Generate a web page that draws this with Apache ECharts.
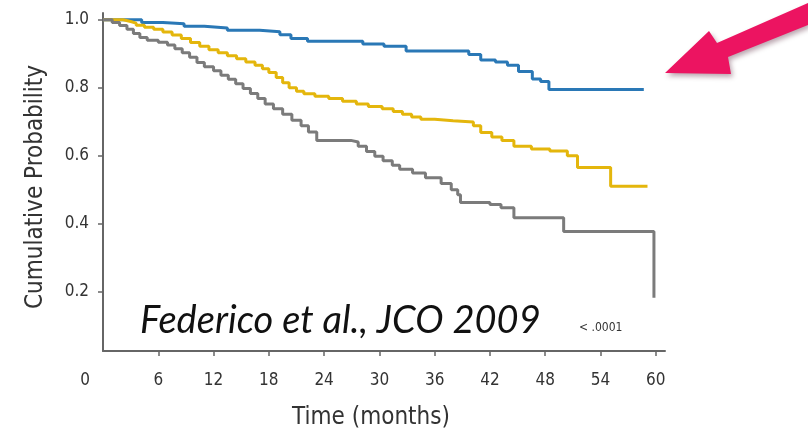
<!DOCTYPE html>
<html><head><meta charset="utf-8">
<script src="https://cdn.jsdelivr.net/npm/echarts@6/dist/echarts.min.js"></script>
<style>html,body{margin:0;padding:0;background:#fff}#c{width:808px;height:435px}</style>
</head><body><div id="c"></div><script>
const monthTicks = [6, 12, 18, 24, 30, 36, 42, 48, 54, 60];
const probTicks = [0.2, 0.4, 0.6, 0.8, 1.0];
const blueCurve = [[0,1],[4.2,0.992],[6.5,0.988],[8.8,0.981],[11,0.976],[13.5,0.969],[17,0.965],[19.2,0.956],[20.4,0.945],[22.2,0.937],[28.2,0.929],[30.5,0.922],[32.9,0.908],[39.7,0.898],[41,0.882],[42.6,0.876],[43.9,0.866],[45.1,0.848],[46.6,0.826],[47.5,0.818],[48.4,0.795],[58.7,0.795]];
const yellowCurve = [[0,1],[2.2,0.995],[3,0.99],[3.6,0.984],[4.5,0.978],[5.5,0.972],[6.5,0.964],[7.5,0.955],[8.5,0.945],[9.5,0.933],[10.5,0.922],[11.5,0.912],[12.5,0.903],[13.5,0.894],[14.5,0.885],[15.5,0.876],[16.5,0.866],[17.3,0.856],[18,0.845],[18.8,0.83],[19.5,0.815],[20.2,0.8],[21,0.79],[21.8,0.782],[23,0.775],[24.5,0.768],[26,0.76],[27.5,0.752],[28.8,0.745],[30.3,0.738],[31.5,0.73],[32.5,0.722],[33.5,0.714],[34.5,0.707],[36,0.703],[38,0.699],[40.2,0.688],[41,0.668],[42.2,0.655],[43.3,0.645],[44.6,0.628],[46.5,0.62],[48.5,0.614],[50.4,0.6],[51.5,0.565],[55.1,0.51],[59.1,0.51]];
const grayCurve = [[0,1],[1,0.992],[1.8,0.983],[2.6,0.972],[3.3,0.96],[4,0.948],[4.8,0.94],[6,0.934],[7,0.926],[7.8,0.915],[8.6,0.903],[9.4,0.89],[10.2,0.874],[11,0.862],[12,0.85],[12.8,0.837],[13.6,0.825],[14.4,0.812],[15.2,0.798],[16,0.783],[16.8,0.768],[17.6,0.752],[18.5,0.738],[19.5,0.722],[20.5,0.704],[21.5,0.688],[22.3,0.67],[23.2,0.645],[26.9,0.64],[27.7,0.628],[28.6,0.612],[29.5,0.598],[30.4,0.585],[31.4,0.572],[32.2,0.56],[33.6,0.549],[35,0.535],[36.7,0.518],[37.8,0.5],[38.5,0.485],[38.8,0.462],[42,0.456],[43.2,0.447],[44.6,0.417],[50,0.377],[59.8,0.182]];
const citation = 'Federico et al., JCO 2009';
const pText = '< .0001';

const NARROW = '"DejaVu Sans Condensed", "Liberation Sans", Arial, sans-serif';
const chart = echarts.init(document.getElementById('c'), null, {renderer: 'canvas'});
function kmSeries(data, color) {
  return {type: 'line', step: 'end', data: data, showSymbol: false, silent: true,
    lineStyle: {color: color, width: 3}, itemStyle: {color: color}};
}
chart.setOption({
  animation: false,
  backgroundColor: '#ffffff',
  grid: {left: 103, right: 143, top: 13, bottom: 84},
  xAxis: {
    type: 'value', min: 0, max: 61,
    axisLine: {show: true, lineStyle: {color: '#666', width: 2}},
    axisTick: {show: true, customValues: monthTicks, length: 5, lineStyle: {color: '#666', width: 1.5}},
    axisLabel: {customValues: monthTicks, margin: 21, fontSize: 17, color: '#333', fontFamily: NARROW},
    splitLine: {show: false},
    name: 'Time (months)', nameLocation: 'middle', nameGap: 55,
    nameTextStyle: {fontSize: 24, color: '#333', fontFamily: NARROW, padding: [0, 26, 0, 0]}
  },
  yAxis: {
    type: 'value', min: 0.025, max: 1.02,
    axisLine: {show: true, lineStyle: {color: '#666', width: 2}},
    axisTick: {show: true, customValues: probTicks, length: 5, lineStyle: {color: '#666', width: 1.5}},
    axisLabel: {customValues: probTicks, margin: 14, fontSize: 17, color: '#333', fontFamily: NARROW,
      formatter: v => v.toFixed(1)},
    splitLine: {show: false}
  },
  series: [kmSeries(blueCurve, '#2a78b6'), kmSeries(yellowCurve, '#e4b60c'), kmSeries(grayCurve, '#7b7b7b')],
  graphic: [
    {type: 'text', x: 36, y: 187, rotation: Math.PI / 2,
      style: {text: 'Cumulative Probability', font: '24px ' + NARROW, fill: '#333',
        align: 'center', verticalAlign: 'middle'}},
    {type: 'text', x: 85, y: 381, style: {text: '0', font: '17px ' + NARROW, fill: '#333', align: 'center', verticalAlign: 'middle'}},
    {type: 'text', x: 140, y: 321, style: {text: citation, font: 'italic 38px Lato, "Open Sans", sans-serif', fill: '#111', align: 'left', verticalAlign: 'middle'}},
    {type: 'text', x: 579, y: 328, style: {text: pText, font: '12px ' + NARROW, fill: '#333', align: 'left', verticalAlign: 'middle'}},
    {type: 'polygon', shape: {points: [[665,73],[709,31],[717,43],[808,3],[808,25],[728,57],[731,74]]},
      style: {fill: '#ec1461', shadowColor: 'rgba(60,0,30,0.35)', shadowBlur: 5, shadowOffsetX: 2, shadowOffsetY: 3}}
  ]
});
</script></body></html>
